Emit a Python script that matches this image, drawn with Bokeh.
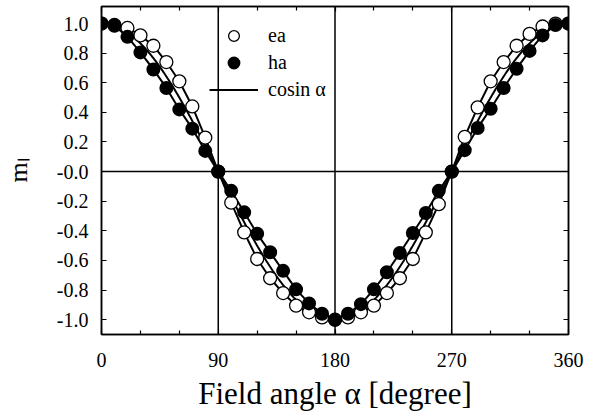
import numpy as np
from bokeh.plotting import figure
from bokeh.models import (Range1d, FixedTicker, CustomJSTickFormatter, CustomLabelingPolicy,
                          LinearAxis, Span, Legend, LegendItem)
from bokeh.embed import file_html
from bokeh.resources import INLINE

# Field angle (degree) and measured normalised magnetisation m_l
angle = [0, 10, 20, 30, 40, 50, 60, 70, 80, 90, 100, 110, 120, 130, 140, 150, 160, 170, 180,
         190, 200, 210, 220, 230, 240, 250, 260, 270, 280, 290, 300, 310, 320, 330, 340, 350, 360]
ea = [1.0, 0.99, 0.97, 0.92, 0.85, 0.74, 0.61, 0.44, 0.23, 0.0, -0.21, -0.41, -0.59, -0.72,
      -0.82, -0.905, -0.95, -0.985, -1.0, -0.985, -0.95, -0.905, -0.82, -0.72, -0.59, -0.41,
      -0.22, 0.0, 0.235, 0.434, 0.61, 0.74, 0.85, 0.93, 0.98, 1.0, 1.0]
ha = [1.0, 0.985, 0.91, 0.805, 0.69, 0.565, 0.42, 0.29, 0.14, 0.0, -0.13, -0.275, -0.42, -0.545,
      -0.67, -0.795, -0.89, -0.96, -1.0, -0.96, -0.895, -0.795, -0.68, -0.55, -0.415, -0.28,
      -0.13, 0.0, 0.145, 0.295, 0.425, 0.565, 0.695, 0.815, 0.92, 0.99, 1.0]

x_major_ticks = [0, 90, 180, 270, 360]
x_minor_ticks = [30, 60, 120, 150, 210, 240, 300, 330]
y_ticks = [-1.0, -0.8, -0.6, -0.4, -0.2, 0.0, 0.2, 0.4, 0.6, 0.8, 1.0]

# reference curve cos(alpha)
alpha = np.linspace(0, 360, 721)
cos_alpha = np.cos(np.radians(alpha))

SERIF = "Liberation Serif"

p = figure(width=598, height=416, output_backend="svg", toolbar_location=None,
           x_range=Range1d(0, 360), y_range=Range1d(-1.1, 1.115),
           min_border_left=100, min_border_right=30, min_border_top=6, min_border_bottom=82)
p.background_fill_color = "white"
p.border_fill_color = "white"
p.xgrid.visible = False
p.ygrid.visible = False
p.outline_line_color = "black"
p.outline_line_width = 1.5

xticker = FixedTicker(ticks=x_major_ticks, minor_ticks=x_minor_ticks)
yticker = FixedTicker(ticks=y_ticks, minor_ticks=[])
yfmt = CustomJSTickFormatter(code="return Math.abs(tick) < 1e-9 ? '-0.0' : tick.toFixed(1);")

xa = p.xaxis[0]
xa.ticker = xticker
xa.axis_label = "Field angle \u03b1 [degree]"
xa.axis_label_text_font_size = "31px"
xa.axis_label_standoff = 6
xa.major_label_standoff = 18

ya = p.yaxis[0]
ya.ticker = yticker
ya.formatter = yfmt
ya.axis_label = "m\u2097"
ya.axis_label_text_font_size = "26px"
ya.axis_label_standoff = 21
ya.major_label_standoff = 13
ya.minor_tick_line_color = None

for ax in (xa, ya):
    ax.axis_label_text_font = SERIF
    ax.axis_label_text_font_style = "normal"
    ax.axis_label_text_color = "black"
    ax.major_label_text_font = SERIF
    ax.major_label_text_font_size = "20px"
    ax.major_label_text_color = "black"
    ax.axis_line_color = "black"
    ax.axis_line_width = 1.5
    ax.major_tick_in = 5
    ax.major_tick_out = 0
    ax.minor_tick_in = 4
    ax.minor_tick_out = 0
    ax.major_tick_line_color = "black"
    ax.major_tick_line_width = 1.2
    ax.minor_tick_line_width = 1.2

# tick-only axes on the top and right (no labels are drawn on them)
no_labels = CustomLabelingPolicy(code="return new Set()")
frame_axis = dict(major_label_policy=no_labels, major_label_standoff=0,
                  major_label_text_font_size="0px", axis_label_standoff=0,
                  major_tick_in=5, major_tick_out=0, axis_line_width=1.5,
                  axis_line_color="black", major_tick_line_color="black",
                  major_tick_line_width=1.2)
top = LinearAxis(ticker=xticker, minor_tick_in=4, minor_tick_out=0,
                 minor_tick_line_color="black", minor_tick_line_width=1.2, **frame_axis)
right = LinearAxis(ticker=yticker, minor_tick_line_color=None, **frame_axis)
p.add_layout(top, "above")
p.add_layout(right, "right")

# reference lines at 90/180/270 degrees and at zero
for loc in (90, 180, 270):
    p.add_layout(Span(location=loc, dimension="height", line_color="black", line_width=1.5))
p.add_layout(Span(location=0, dimension="width", line_color="black", line_width=1.5))

cos_r = p.line(alpha, cos_alpha, line_color="black", line_width=2)
p.line(angle, ea, line_color="black", line_width=2)
p.line(angle, ha, line_color="black", line_width=2)
ea_r = p.scatter(angle, ea, marker="circle", size=13, fill_color="white",
                 line_color="black", line_width=1.3)
ha_r = p.scatter(angle, ha, marker="circle", size=12, fill_color="black",
                 line_color="black", line_width=2)

legend = Legend(items=[LegendItem(label="ea", renderers=[ea_r]),
                       LegendItem(label="ha", renderers=[ha_r]),
                       LegendItem(label="cosin \u03b1", renderers=[cos_r])],
                location=(108, 231), orientation="vertical",
                glyph_width=49, glyph_height=27, spacing=0, label_standoff=10,
                label_height=27,
                padding=0, margin=0, border_line_color=None, background_fill_alpha=0,
                label_text_font=SERIF, label_text_font_size="20px",
                label_text_color="black")
p.add_layout(legend)

open("out.html", "w").write(file_html(p, INLINE))
